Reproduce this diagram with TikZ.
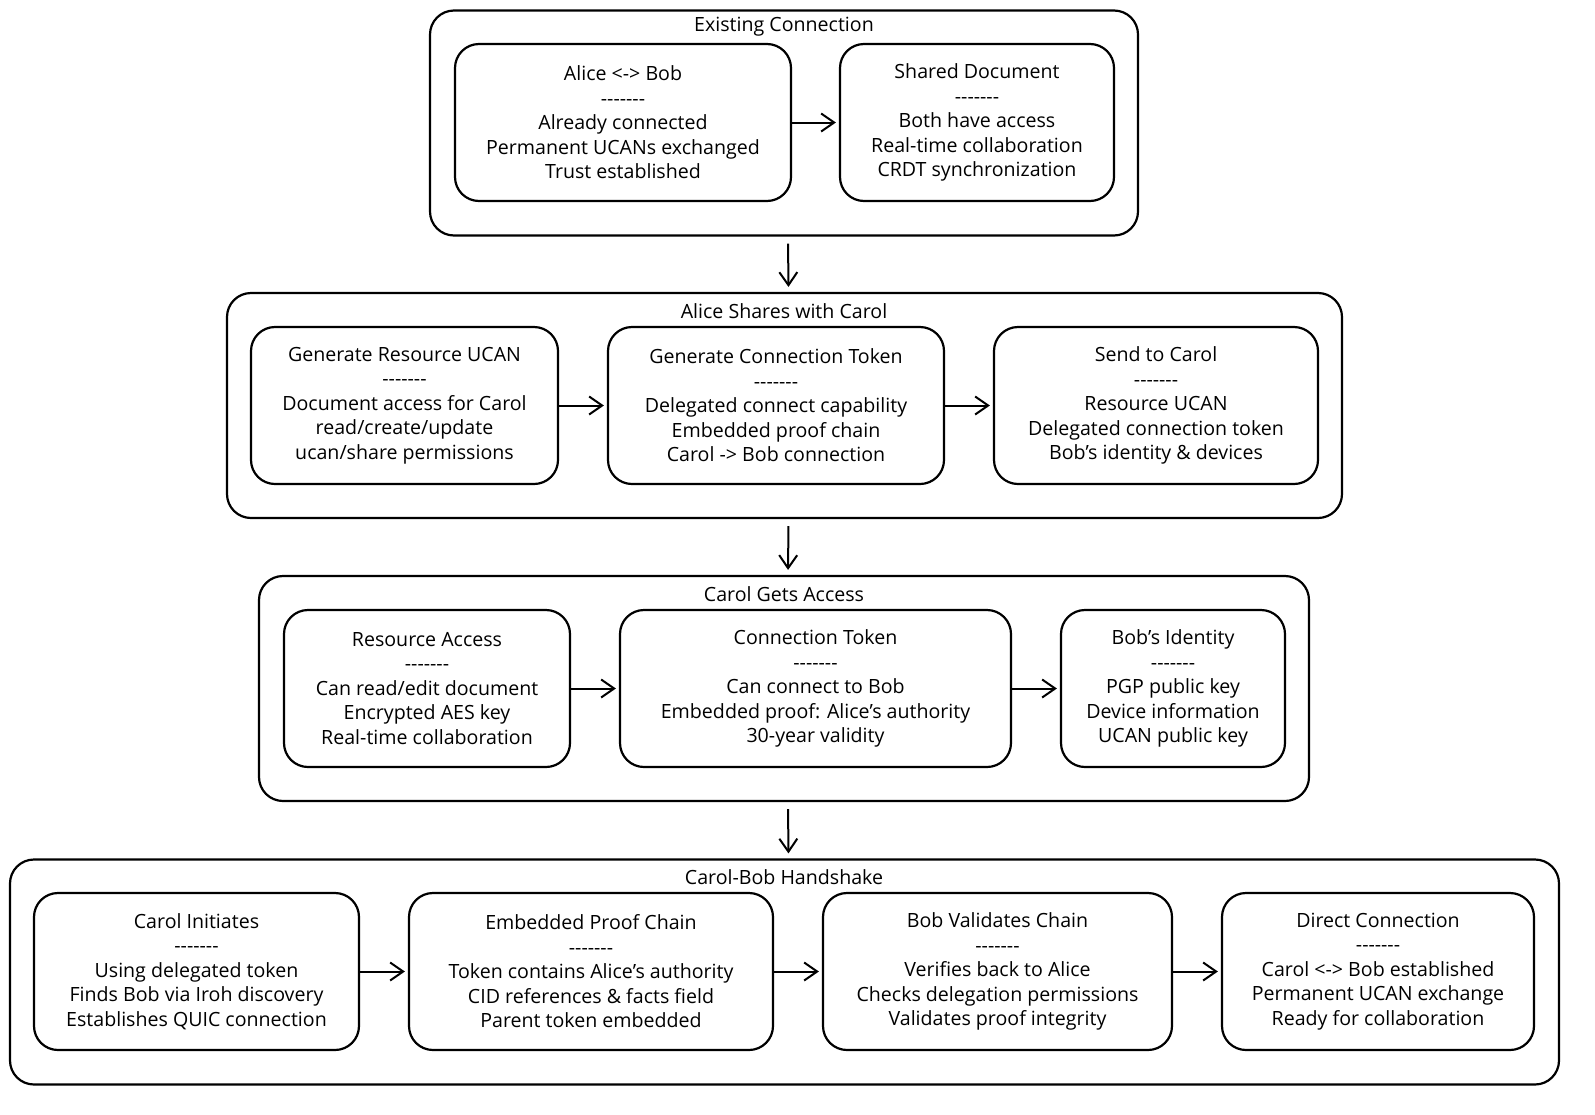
\documentclass[tikz,border=0pt]{standalone}
\usepackage{fontspec}
\newfontfamily\diafont{Open Sans}
\usetikzlibrary{arrows.meta}
\tikzset{
	group/.style={draw, line width=1.1pt, rounded corners=12pt, minimum height=112.5pt, inner sep=0pt},
	box/.style={draw, line width=1.1pt, rounded corners=12pt, minimum height=78.5pt, align=center, inner sep=0pt, font=\diafont\fontsize{9.8}{12.25}\selectfont},
	gtitle/.style={font=\diafont\fontsize{9.8}{11}\selectfont, inner sep=0pt},
	arr/.style={-{Straight Barb[length=6.5pt, width=9pt, line width=1pt]}, line width=1pt}
}
\def\sepline{-{}-{}-{}-{}-{}-{}-}

\begin{document}
\begin{tikzpicture}[x=0.5pt, y=-0.5pt]

	\useasboundingbox (0,0) rectangle (1595,1114);

	% existing connection
	\node[group, minimum width=354pt] (g1) at (784,123) {};
	\node[gtitle] (g1t) at (784,27) {Existing Connection};
	\node[box, minimum width=168pt] (ab) at (623,122.5) {Alice <-> Bob\\\sepline\\Already connected\\Permanent UCANs exchanged\\Trust established};
	\node[box, minimum width=137pt] (doc) at (977,122.5) {Shared Document\\\sepline\\Both have access\\Real-time collaboration\\CRDT synchronization};
	\draw[arr, shorten >=1.5pt] (ab) -- (doc);

	% alice shares with carol
	\node[group, minimum width=557.5pt] (g2) at (784.5,405.5) {};
	\node[gtitle] (g2t) at (784,311) {Alice Shares with Carol};
	\node[box, minimum width=153.5pt] (res) at (404.5,405.5) {Generate Resource UCAN\\\sepline\\Document access for Carol\\read/create/update\\ucan/share permissions};
	\node[box, minimum width=168pt] (tok) at (776,405.5) {Generate Connection Token\\\sepline\\Delegated connect capability\\Embedded proof chain\\Carol -> Bob connection};
	\node[box, minimum width=162pt] (send) at (1156,405.5) {Send to Carol\\\sepline\\Resource UCAN\\Delegated connection token\\Bob’s identity \& devices};
	\draw[arr, shorten >=1.5pt] (res) -- (tok);
	\draw[arr, shorten >=1.5pt] (tok) -- (send);

	% carol gets access
	\node[group, minimum width=525pt] (g3) at (784,688.5) {};
	\node[gtitle] (g3t) at (784,594) {Carol Gets Access};
	\node[box, minimum width=143pt] (acc) at (427,688.5) {Resource Access\\\sepline\\Can read/edit document\\Encrypted AES key\\Real-time collaboration};
	\node[box, minimum width=195.5pt] (ctok) at (815.5,688.5) {Connection Token\\\sepline\\Can connect to Bob\\Embedded proof: Alice’s authority\\30-year validity};
	\node[box, minimum width=112pt] (bid) at (1173,688.5) {Bob’s Identity\\\sepline\\PGP public key\\Device information\\UCAN public key};
	\draw[arr, shorten >=1.5pt] (acc) -- (ctok);
	\draw[arr, shorten >=1.5pt] (ctok) -- (bid);

	% handshake
	\node[group, minimum width=774.5pt] (g4) at (784.5,972) {};
	\node[gtitle] (g4t) at (784,877) {Carol-Bob Handshake};
	\node[box, minimum width=162.5pt] (init) at (196.5,971.5) {Carol Initiates\\\sepline\\Using delegated token\\Finds Bob via Iroh discovery\\Establishes QUIC connection};
	\node[box, minimum width=182pt] (proof) at (591,971.5) {Embedded Proof Chain\\\sepline\\Token contains Alice’s authority\\CID references \& facts field\\Parent token embedded};
	\node[box, minimum width=174.5pt] (val) at (997.5,971.5) {Bob Validates Chain\\\sepline\\Verifies back to Alice\\Checks delegation permissions\\Validates proof integrity};
	\node[box, minimum width=156pt] (direct) at (1378,971.5) {Direct Connection\\\sepline\\Carol <-> Bob established\\Permanent UCAN exchange\\Ready for collaboration};
	\draw[arr, shorten >=1.5pt] (init) -- (proof);
	\draw[arr, shorten >=1.5pt] (proof) -- (val);
	\draw[arr, shorten >=1.5pt] (val) -- (direct);

	% between groups
	\foreach \a/\b in {g1/g2, g2/g3, g3/g4}
		\draw[arr, shorten <=3.5pt, shorten >=2.5pt] ([xshift=2pt]\a.south) -- ([xshift=2pt]\b.north);

\end{tikzpicture}
\end{document}
